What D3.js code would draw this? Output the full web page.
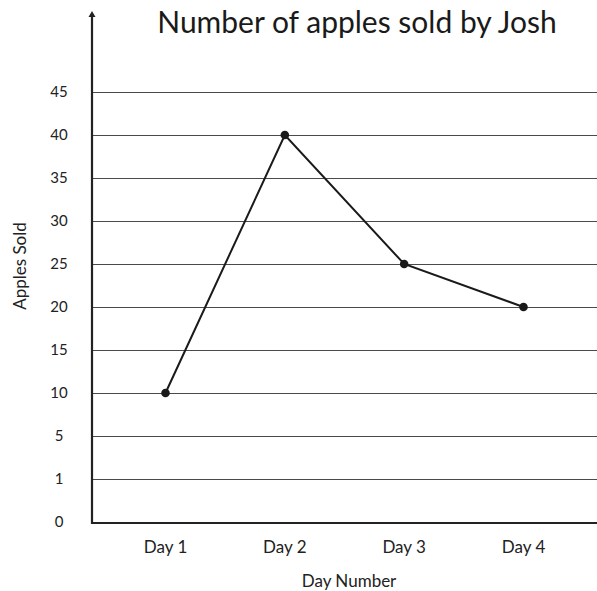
<!DOCTYPE html>
<html>
<head>
<meta charset="utf-8">
<script src="https://cdn.jsdelivr.net/npm/d3@7/dist/d3.min.js"></script>
<style>
  html, body { margin: 0; padding: 0; background: #fff; }
  svg { display: block; font-family: Lato, "Open Sans", sans-serif; }
</style>
</head>
<body>
<svg id="chart" width="597" height="591"></svg>
<script>
// Day labels along the x axis
const days = ["Day 1", "Day 2", "Day 3", "Day 4"];
// Apples sold on each day
const applesSold = [10, 40, 25, 20];
// Y axis tick labels (evenly spaced, bottom to top)
const yTicks = ["0", "1", "5", "10", "15", "20", "25", "30", "35", "40", "45"];

const svg = d3.select("#chart");
const left = 92, right = 597, axisY = 522, topY = 92;

const x = d3.scalePoint().domain(days).range([165.5, 523.5]);
const y = d3.scalePoint().domain(yTicks).range([axisY, topY]);

// horizontal grid lines
svg.append("g")
  .selectAll("line")
  .data(yTicks.filter(t => t !== "0"))
  .join("line")
  .attr("x1", left).attr("x2", right)
  .attr("y1", d => y(d) + 0.5).attr("y2", d => y(d) + 0.5)
  .attr("stroke", "#4a4a4a").attr("stroke-width", 1.2);

// y tick labels
svg.append("g")
  .selectAll("text")
  .data(yTicks)
  .join("text")
  .attr("x", 59).attr("y", d => y(d))
  .attr("dy", "0.35em")
  .attr("text-anchor", "middle")
  .attr("font-size", 15)
  .attr("fill", "#222")
  .text(d => d);

// x tick labels
svg.append("g")
  .selectAll("text")
  .data(days)
  .join("text")
  .attr("x", d => x(d)).attr("y", 547)
  .attr("dy", "0.35em")
  .attr("text-anchor", "middle")
  .attr("font-size", 17)
  .attr("fill", "#222")
  .text(d => d);

// axes
svg.append("line")
  .attr("x1", left).attr("x2", right)
  .attr("y1", axisY + 1).attr("y2", axisY + 1)
  .attr("stroke", "#222").attr("stroke-width", 2.2);
svg.append("line")
  .attr("x1", left).attr("x2", left)
  .attr("y1", 15).attr("y2", axisY + 2)
  .attr("stroke", "#222").attr("stroke-width", 2.2);
// arrowhead on the y axis
svg.append("path")
  .attr("d", `M${left - 3.5},17 L${left},11 L${left + 3.5},17 Z`)
  .attr("fill", "#222");

// data line
const pts = days.map((d, i) => [x(d), y(String(applesSold[i]))]);
svg.append("path")
  .attr("d", d3.line()(pts))
  .attr("fill", "none")
  .attr("stroke", "#1a1a1a")
  .attr("stroke-width", 2);

svg.append("g")
  .selectAll("circle")
  .data(pts)
  .join("circle")
  .attr("cx", d => d[0]).attr("cy", d => d[1])
  .attr("r", 4.3)
  .attr("fill", "#1a1a1a");

// title
svg.append("text")
  .attr("x", 357).attr("y", 33)
  .attr("text-anchor", "middle")
  .attr("font-size", 30)
  .attr("fill", "#1a1a1a")
  .text("Number of apples sold by Josh");

// axis titles
svg.append("text")
  .attr("x", 349).attr("y", 581)
  .attr("dy", "0.35em")
  .attr("text-anchor", "middle")
  .attr("font-size", 17)
  .attr("fill", "#222")
  .text("Day Number");

svg.append("text")
  .attr("transform", "translate(20,266) rotate(-90)")
  .attr("dy", "0.35em")
  .attr("text-anchor", "middle")
  .attr("font-size", 17)
  .attr("fill", "#222")
  .text("Apples Sold");
</script>
</body>
</html>
